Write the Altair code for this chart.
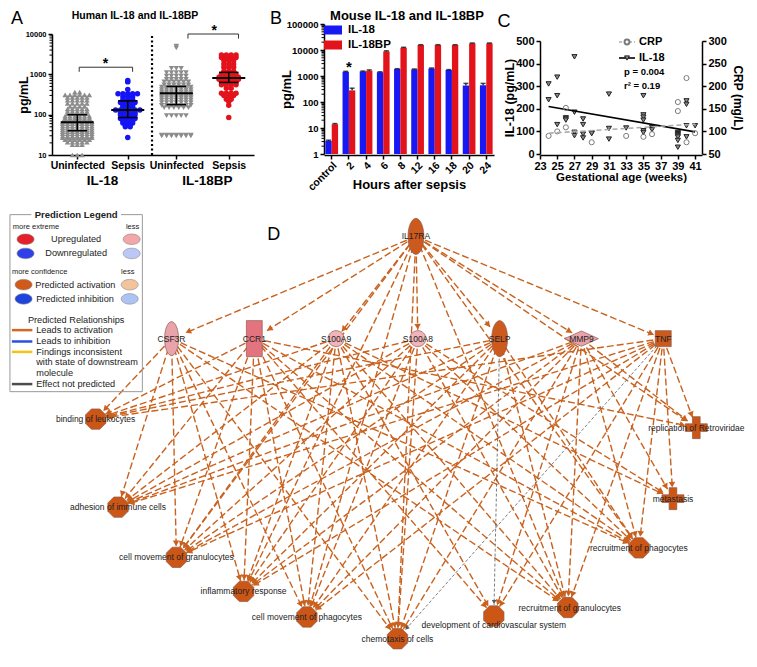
import math
import pandas as pd
import altair as alt

FONT = "Liberation Sans"

# ======================= Panel A data (human) =======================
A_CATEGORIES = ["IL-18 Uninfected", "IL-18 Sepsis", "IL-18BP Uninfected", "IL-18BP Sepsis"]
A_TICK_LABELS = ["Uninfected", "Sepsis", "Uninfected", "Sepsis"]
A_GROUP_LABELS = ["IL-18", "IL-18BP"]
A_IL18_UNINF_LEVELS = [10, 18, 21, 24, 27, 30, 34, 38, 42, 47, 53, 60, 66, 74, 82, 92, 105, 120, 140, 160, 190, 230, 270, 310, 360]
A_IL18_UNINF_COUNTS = [3, 3, 5, 6, 7, 7, 7, 7, 7, 7, 7, 7, 7, 6, 6, 6, 5, 5, 5, 4, 5, 5, 5, 6, 2]
A_IL18_SEPSIS_LEVELS = [27, 50, 55, 62, 70, 80, 90, 100, 115, 130, 150, 170, 200, 230, 280, 330, 420, 650, 700]
A_IL18_SEPSIS_COUNTS = [1, 2, 2, 3, 3, 4, 3, 4, 4, 6, 3, 3, 4, 3, 3, 5, 1, 1, 1]
A_BP_UNINF_LEVELS = [30, 31, 95, 150, 170, 200, 230, 260, 290, 330, 370, 420, 480, 550, 650, 750, 900, 1100, 1400, 4500, 5000]
A_BP_UNINF_COUNTS = [7, 7, 5, 6, 7, 7, 7, 7, 7, 7, 7, 7, 7, 6, 6, 5, 5, 5, 3, 1, 1]
A_BP_SEPSIS_LEVELS = [85, 170, 210, 240, 300, 340, 450, 550, 650, 750, 850, 1000, 1200, 1500, 1800, 2200, 2600, 3000]
A_BP_SEPSIS_COUNTS = [1, 1, 1, 2, 3, 4, 2, 4, 4, 5, 5, 4, 3, 3, 3, 3, 4, 4]
A_MEAN = [65, 130, 340, 810]
A_SD_LOW = [40, 85, 177, 630]
A_SD_HIGH = [100, 220, 500, 1120]
A_BRACKET_Y = [1500, 10000]
A_STAR_Y = [2300, 14500]
A_MINOR = [m * 10 ** k for k in range(1, 4) for m in range(2, 10)]

# ======================= Panel B data (mouse) =======================
B_TIMES = ["control", "2", "4", "6", "8", "12", "16", "18", "20", "24"]
B_SERIES = ["IL-18", "IL-18BP"]
B_IL18 = [3.2, 1450, 1500, 1400, 1850, 1800, 1950, 1700, 430, 440]
B_IL18BP = [14, 280, 1600, 8800, 12200, 15500, 15500, 15500, 18000, 18000]
B_IL18_ERR = [0.2, 60, 50, 50, 60, 60, 80, 60, 90, 80]
B_IL18BP_ERR = [0.8, 60, 120, 500, 500, 500, 500, 500, 600, 600]
B_STAR_TIME = ["2"]
B_STAR_Y = [3200]
B_MINOR = [m * 10 ** k for k in range(0, 5) for m in range(2, 10)]

# ======================= Panel C data (gestational age) =======================
C_WEEK_TICKS = list(range(23, 42, 2))
C_IL18_TICKS = [0, 100, 200, 300, 400, 500]
C_CRP_TICKS = [50, 100, 150, 200, 250, 300]
C_IL18_WEEK = [24, 24, 25, 25, 25, 26, 26, 26, 27, 27, 27, 27, 28, 28, 28, 28, 29, 29, 31, 31, 31, 33,
               35, 35, 35, 35, 35, 35, 36, 36, 39, 39, 39, 39, 39, 39, 39, 40, 40, 40, 40, 41]
C_IL18_VAL = [310, 240, 340, 258, 130, 160, 155, 150, 430, 185, 96, 81, 155, 130, 88, 71, 93, 90, 265, 113, 66, 115,
              258, 173, 163, 150, 103, 95, 117, 108, 95, 90, 85, 80, 75, 60, 30, 235, 220, 125, 76, 125]
C_CRP_WEEK = [24, 25, 26, 26, 27, 29, 33, 35, 36, 39, 39, 40, 40, 41]
C_CRP_VAL = [90, 100, 152, 109, 97, 76, 90, 88, 94, 165, 145, 218, 76, 96]
C_IL18_FIT_WEEK = [24, 41]
C_IL18_FIT_VAL = [210, 98]
C_CRP_FIT_WEEK = [24, 41]
C_CRP_FIT_VAL = [96, 116]

# ======================= Panel D data (network) =======================
D_NODES = ["IL17RA", "CSF3R", "CCR1", "S100A9", "S100A8", "SELP", "MMP9", "TNF",
           "binding of leukocytes", "adhesion of immune cells", "cell movement of granulocytes",
           "inflammatory response", "cell movement of phagocytes", "chemotaxis of cells",
           "development of cardiovascular system", "recruitment of granulocytes",
           "recruitment of phagocytes", "metastasis", "replication of Retroviridae"]
D_MOLECULES = ["CSF3R", "CCR1", "S100A9", "S100A8", "SELP", "MMP9", "TNF"]
D_IL17RA_FUNCTIONS = ["cell movement of granulocytes", "inflammatory response", "cell movement of phagocytes",
                      "chemotaxis of cells", "recruitment of granulocytes", "recruitment of phagocytes",
                      "replication of Retroviridae"]
D_FUNCTION_SOURCES = {
    "binding of leukocytes": ["CSF3R", "CCR1", "S100A9", "S100A8", "SELP", "TNF"],
    "adhesion of immune cells": ["CSF3R", "CCR1", "S100A9", "S100A8", "SELP", "MMP9", "TNF"],
    "cell movement of granulocytes": ["CSF3R", "CCR1", "S100A9", "S100A8", "SELP", "MMP9", "TNF"],
    "inflammatory response": ["CSF3R", "CCR1", "S100A9", "S100A8", "SELP", "MMP9", "TNF"],
    "cell movement of phagocytes": ["CSF3R", "CCR1", "S100A9", "S100A8", "SELP", "MMP9", "TNF"],
    "chemotaxis of cells": ["CSF3R", "CCR1", "S100A9", "S100A8", "SELP", "MMP9"],
    "development of cardiovascular system": ["CCR1", "S100A9", "MMP9", "TNF"],
    "recruitment of granulocytes": ["CSF3R", "CCR1", "S100A9", "S100A8", "SELP", "MMP9", "TNF"],
    "recruitment of phagocytes": ["CSF3R", "CCR1", "S100A9", "S100A8", "SELP", "MMP9", "TNF"],
    "metastasis": ["S100A9", "S100A8", "MMP9", "TNF"],
    "replication of Retroviridae": ["CCR1", "MMP9", "TNF"],
}
D_NOT_PREDICTED = [("SELP", "development of cardiovascular system"), ("TNF", "chemotaxis of cells")]

# ----------------------- layout (positions, sizes, styles) -----------------------
ROW_H = 131
A_W, B_W, C_W = 202, 170, 162
A_TOP, B_TOP, C_TOP = 10, 0, 17
D_W, D_H = 737, 444
A_CENTERS = [26, 78, 128, 182]
A_GROUP_X = [52, 160]
A_BRACKET_X1 = [28, 140]
A_BRACKET_X2 = [83, 192]
A_STAR_X = [55, 167]
A_SEP_X = 103
A_STEP = 5.0

D_POS = {
    "IL17RA": (419, 228), "CSF3R": (168, 336), "CCR1": (253, 336), "S100A9": (337, 336),
    "S100A8": (421, 336), "SELP": (505, 336), "MMP9": (589, 336), "TNF": (673, 336),
    "binding of leukocytes": (90, 421), "adhesion of immune cells": (113, 514),
    "cell movement of granulocytes": (173, 567), "inflammatory response": (242, 603),
    "cell movement of phagocytes": (307, 630), "chemotaxis of cells": (400, 653),
    "development of cardiovascular system": (499, 629), "recruitment of granulocytes": (575, 620),
    "recruitment of phagocytes": (648, 557), "metastasis": (683, 505),
    "replication of Retroviridae": (707, 430),
}
D_LABEL_OFF = {"development of cardiovascular system": (0, 9), "recruitment of granulocytes": (2, 0)}


def poly_path(pts):
    return "M" + "L".join(f"{x:.3f},{y:.3f}" for x, y in pts) + "Z"


def ellipse_path(rx, ry, n=32):
    return poly_path([(rx * math.cos(2 * math.pi * k / n), ry * math.sin(2 * math.pi * k / n)) for k in range(n)])


ELL_V = ellipse_path(0.44, 1)
ELL_V2 = ellipse_path(0.41, 1)
ELL_H = ellipse_path(1, 0.62)
CIRC = ellipse_path(1, 1)
RECT_V = poly_path([(-0.44, -1), (0.44, -1), (0.44, 1), (-0.44, 1)])
DIAM = poly_path([(-1, 0), (0, -0.45), (1, 0), (0, 0.45)])
OCT = poly_path([(math.cos(math.radians(22.5 + 45 * k)), math.sin(math.radians(22.5 + 45 * k))) for k in range(8)])
PLUS = poly_path([(-0.35, -1), (0.35, -1), (0.35, -0.35), (1, -0.35), (1, 0.35), (0.35, 0.35), (0.35, 1),
                  (-0.35, 1), (-0.35, 0.35), (-1, 0.35), (-1, -0.35), (-0.35, -0.35)])
LEG_RECT = "M-1,-0.5L1,-0.5L1,0.5L-1,0.5Z"

ORANGE = "#cc5a1e"
EDGE = "#c9621f"
D_STYLE = {
    "IL17RA": (ELL_V, 1300, ORANGE, 16), "CSF3R": (ELL_V2, 1156, "#e9a3ab", 15),
    "CCR1": (RECT_V, 1300, "#e3747f", 15), "S100A9": (CIRC, 256, "#f0b4ba", 9),
    "S100A8": (CIRC, 256, "#f0b4ba", 9), "SELP": (ELL_V, 1300, ORANGE, 15),
    "MMP9": (DIAM, 1156, "#e8a2aa", 11), "TNF": ("square", 256, ORANGE, 10),
}
for _f in D_NODES[8:]:
    D_STYLE[_f] = ((PLUS if _f in ("metastasis", "replication of Retroviridae") else OCT), 484, "#cc5616", 11)


def one(**kw):
    return pd.DataFrame({k: [v] for k, v in kw.items()})


def spacer(w, h):
    return alt.Chart(one(s=0)).mark_rect(opacity=0).encode(
        x=alt.value(0), x2=alt.value(w), y=alt.value(0), y2=alt.value(h)).properties(width=w, height=h)


# ======================= Panel A chart =======================
rows = []
for cat, cx, lv, ct in zip(A_CATEGORIES, A_CENTERS,
                           [A_IL18_UNINF_LEVELS, A_IL18_SEPSIS_LEVELS, A_BP_UNINF_LEVELS, A_BP_SEPSIS_LEVELS],
                           [A_IL18_UNINF_COUNTS, A_IL18_SEPSIS_COUNTS, A_BP_UNINF_COUNTS, A_BP_SEPSIS_COUNTS]):
    for v, n in zip(lv, ct):
        for i in range(n):
            rows.append({"group": cat, "x": cx + (i - (n - 1) / 2) * A_STEP, "v": v})
a_pts = pd.DataFrame(rows)

label_expr = "'Sepsis'"
for c, lab in zip(A_CENTERS, A_TICK_LABELS):
    label_expr = f"datum.value == {c} ? '{lab}' : (" + label_expr + ")"

a_xscale = alt.Scale(domain=[0, 208], nice=False, zero=False)
a_yscale = alt.Scale(type="log", domain=[10, 10000], nice=False, range=[ROW_H, A_TOP])
a_points = alt.Chart(a_pts).mark_point(filled=True, size=30, opacity=1).encode(
    x=alt.X("x:Q", scale=a_xscale, axis=alt.Axis(values=A_CENTERS, labelExpr=label_expr, title=None,
                                                   labelFontSize=10.5, labelFontWeight="bold", tickSize=4,
                                                   labelPadding=1, domainWidth=1.5, tickWidth=1.5,
                                                   labelFlush=False, labelOverlap=False)),
    y=alt.Y("v:Q", scale=a_yscale, axis=alt.Axis(values=[10, 100, 1000, 10000], format="d", title="pg/mL",
                                                   titleFontSize=12.5, titleFontWeight="bold", titleX=-22,
                                                   titleY=(ROW_H + A_TOP) / 2, labelOverlap=False,
                                                   labelFontSize=7.5, labelFontWeight="bold", tickSize=4,
                                                   domainWidth=1.5, tickWidth=1.5)),
    shape=alt.Shape("group:N", scale=alt.Scale(domain=A_CATEGORIES,
                                               range=["triangle-up", "circle", "triangle-down", "circle"]),
                    legend=None),
    color=alt.Color("group:N", scale=alt.Scale(domain=A_CATEGORIES,
                                               range=["#8c8c8c", "#1414f5", "#8c8c8c", "#e3121b"]),
                    legend=None),
)
a_stats = pd.DataFrame({"c": A_CENTERS, "mean": A_MEAN, "lo": A_SD_LOW, "hi": A_SD_HIGH})
a_stats["ml"] = a_stats["c"] - 17
a_stats["mr"] = a_stats["c"] + 17
a_stats["sl"] = a_stats["c"] - 10
a_stats["sr"] = a_stats["c"] + 10
a_mean = alt.Chart(a_stats).mark_rule(color="black", strokeWidth=2).encode(x="ml:Q", x2="mr:Q", y="mean:Q")
a_vert = alt.Chart(a_stats).mark_rule(color="black", strokeWidth=1.5).encode(x="c:Q", y="lo:Q", y2="hi:Q")
a_caplo = alt.Chart(a_stats).mark_rule(color="black", strokeWidth=1.5).encode(x="sl:Q", x2="sr:Q", y="lo:Q")
a_caphi = alt.Chart(a_stats).mark_rule(color="black", strokeWidth=1.5).encode(x="sl:Q", x2="sr:Q", y="hi:Q")

a_br = pd.DataFrame({"x1": A_BRACKET_X1, "x2": A_BRACKET_X2, "y": A_BRACKET_Y,
                     "sx": A_STAR_X, "sy": A_STAR_Y})
a_br["yt"] = a_br["y"] * 0.77
a_brh = alt.Chart(a_br).mark_rule(color="#333", strokeWidth=1).encode(x="x1:Q", x2="x2:Q", y="y:Q")
a_brl = alt.Chart(a_br).mark_rule(color="#333", strokeWidth=1).encode(x="x1:Q", y="yt:Q", y2="y:Q")
a_brr = alt.Chart(a_br).mark_rule(color="#333", strokeWidth=1).encode(x="x2:Q", y="yt:Q", y2="y:Q")
a_star = alt.Chart(a_br).mark_text(text="*", fontSize=14, fontWeight="bold", baseline="middle", dy=4).encode(
    x="sx:Q", y="sy:Q")
a_sep = alt.Chart(one(x=A_SEP_X, y1=10, y2=10000)).mark_rule(
    color="black", strokeWidth=2.2, strokeDash=[2, 2.5]).encode(x="x:Q", y="y1:Q", y2="y2:Q")
a_grp = alt.Chart(pd.DataFrame({"gx": A_GROUP_X, "t": A_GROUP_LABELS})).mark_text(
    fontSize=13.5, fontWeight="bold", baseline="middle").encode(x="gx:Q", y=alt.value(ROW_H + 26), text="t:N")
a_minor = alt.Chart(pd.DataFrame({"v": A_MINOR})).mark_rule(color="black", strokeWidth=1).encode(
    y="v:Q", x=alt.value(0), x2=alt.value(-2.5))
a_letter = alt.Chart(one(t="A")).mark_text(fontSize=18, baseline="middle").encode(
    x=alt.value(-35), y=alt.value(A_TOP - 15), text="t:N")
a_title = alt.Chart(one(t="Human IL-18 and IL-18BP")).mark_text(
    fontSize=10.5, fontWeight="bold", baseline="middle").encode(
    x=alt.value(83), y=alt.value(A_TOP - 18), text="t:N")
a_chart = alt.layer(a_points, a_mean, a_vert, a_caplo, a_caphi, a_brh, a_brl, a_brr, a_star, a_sep,
                    a_grp, a_minor, a_letter, a_title).properties(width=A_W, height=ROW_H)

# ======================= Panel B chart =======================
b_df = pd.DataFrame({"time": B_TIMES * 2, "series": ["IL-18"] * len(B_TIMES) + ["IL-18BP"] * len(B_TIMES),
                     "v": B_IL18 + B_IL18BP, "err": B_IL18_ERR + B_IL18BP_ERR})
b_df["top"] = b_df["v"] + b_df["err"]
bx = alt.X("time:N", sort=B_TIMES, scale=alt.Scale(paddingInner=0.26, paddingOuter=0.08),
           axis=alt.Axis(title="Hours after sepsis", labelAngle=-45, labelFontSize=10.5, labelFontWeight="bold",
                         titleFontSize=13, titleFontWeight="bold", tickSize=4, domainWidth=1.5, tickWidth=1.5,
                         titleY=23, labelPadding=1))
bxo = alt.XOffset("series:N", sort=B_SERIES, scale=alt.Scale(paddingInner=0, paddingOuter=0))
b_yscale = alt.Scale(type="log", domain=[1, 100000], nice=False, range=[ROW_H - 1, B_TOP])
b_bars = alt.Chart(b_df).mark_bar().encode(
    x=bx, xOffset=bxo,
    y=alt.Y("v:Q", scale=b_yscale, axis=alt.Axis(values=[1, 10, 100, 1000, 10000, 100000], format="d",
                                                   title="pg/mL", titleFontSize=13, titleFontWeight="bold",
                                                   titleX=-31, labelFontSize=9.5, labelFontWeight="bold",
                                                   labelOverlap=False,
                                                   tickSize=4, domainWidth=1.5, tickWidth=1.5)),
    y2=alt.datum(1),
    color=alt.Color("series:N", scale=alt.Scale(domain=B_SERIES, range=["#1818f2", "#e3131c"]),
                    legend=alt.Legend(title=None, orient="none", legendX=0, legendY=-3, symbolType=LEG_RECT,
                                      symbolSize=324, symbolStrokeWidth=0, labelFontSize=11.5,
                                      labelFontWeight="bold", labelFont=FONT, rowPadding=-4, padding=0,
                                      labelOffset=6)),
)
b_err = alt.Chart(b_df).mark_rule(color="black", strokeWidth=1.2).encode(
    x=alt.X("time:N", sort=B_TIMES), xOffset=alt.XOffset("series:N", sort=B_SERIES), y="v:Q", y2="top:Q")
b_cap = alt.Chart(b_df).mark_tick(color="black", thickness=1.5, size=5).encode(
    x=alt.X("time:N", sort=B_TIMES), xOffset=alt.XOffset("series:N", sort=B_SERIES), y="top:Q")
b_star = alt.Chart(pd.DataFrame({"time": B_STAR_TIME, "v": B_STAR_Y})).mark_text(
    text="*", fontSize=15, fontWeight="bold", baseline="middle", dy=4).encode(
    x=alt.X("time:N", sort=B_TIMES), y="v:Q")
b_minor = alt.Chart(pd.DataFrame({"v": B_MINOR})).mark_rule(color="black", strokeWidth=1).encode(
    y="v:Q", x=alt.value(0), x2=alt.value(-2.5))
b_letter = alt.Chart(one(t="B")).mark_text(fontSize=18, baseline="middle").encode(
    x=alt.value(-48), y=alt.value(B_TOP - 5), text="t:N")
b_title = alt.Chart(one(t="Mouse IL-18 and IL-18BP")).mark_text(
    fontSize=13, fontWeight="bold", baseline="middle").encode(x=alt.value(83), y=alt.value(B_TOP - 8), text="t:N")
b_chart = alt.layer(b_bars, b_err, b_cap, b_star, b_minor, b_letter, b_title).properties(width=B_W, height=ROW_H)

# ======================= Panel C chart =======================
C_MID = (ROW_H - 1 + C_TOP) / 2
c_xs = alt.Scale(domain=[23, 41.8], nice=False, zero=False)
c_yl = alt.Scale(domain=[0, 500], nice=False, range=[ROW_H - 1, C_TOP])
c_yr = alt.Scale(domain=[50, 300], nice=False, range=[ROW_H - 1, C_TOP])
AX = dict(labelFontSize=11, labelFontWeight="bold", tickSize=4, domainWidth=1.5, tickWidth=1.5,
          labelOverlap=False, labelFlush=False, labelBound=False)
c_il18 = pd.DataFrame({"week": C_IL18_WEEK, "il18": C_IL18_VAL})
c_crp = pd.DataFrame({"week": C_CRP_WEEK, "crp": C_CRP_VAL})
c_il18_pts = alt.Chart(c_il18).mark_point(shape="triangle-down", filled=True, size=26, fill="#8a8a8a",
                                          stroke="#222", strokeWidth=1, opacity=1).encode(
    x=alt.X("week:Q", scale=c_xs,
            axis=alt.Axis(values=C_WEEK_TICKS, tickCount=len(C_WEEK_TICKS), title="Gestational age (weeks)",
                          titleFontSize=11.5, titleFontWeight="bold", titlePadding=0, labelPadding=1, **AX)),
    y=alt.Y("il18:Q", scale=c_yl,
            axis=alt.Axis(values=C_IL18_TICKS, tickCount=len(C_IL18_TICKS), title="IL-18 (pg/mL)",
                          titleFontSize=12.5, titleFontWeight="bold", titleX=-24, titleY=C_MID, **AX)))
c_il18_fit = alt.Chart(pd.DataFrame({"week": C_IL18_FIT_WEEK, "il18": C_IL18_FIT_VAL})).mark_line(
    color="black", strokeWidth=1.6).encode(x="week:Q", y="il18:Q")
c_crp_pts = alt.Chart(c_crp).mark_point(shape="circle", filled=False, size=26, color="#7a7a7a",
                                        strokeWidth=1, opacity=1).encode(
    x="week:Q",
    y=alt.Y("crp:Q", scale=c_yr,
            axis=alt.Axis(orient="right", values=C_CRP_TICKS, tickCount=len(C_CRP_TICKS), title="CRP (mg/L)",
                          titleFontSize=12, titleFontWeight="bold", titleY=C_MID, **AX)))
c_crp_fit = alt.Chart(pd.DataFrame({"week": C_CRP_FIT_WEEK, "crp": C_CRP_FIT_VAL})).mark_line(
    color="#aaaaaa", strokeWidth=1.6, strokeDash=[5, 3]).encode(x="week:Q", y="crp:Q")

c_leg_crp_line = alt.Chart(one(s=0)).mark_rule(color="#aaaaaa", strokeWidth=1.6, strokeDash=[3, 2]).encode(
    x=alt.value(79), x2=alt.value(95), y=alt.value(C_TOP + 1))
c_leg_crp_pt = alt.Chart(one(s=0)).mark_point(shape="circle", filled=False, size=24, color="#7a7a7a",
                                              opacity=1, fill="white").encode(x=alt.value(87), y=alt.value(C_TOP + 1))
c_leg_il_line = alt.Chart(one(s=0)).mark_rule(color="black", strokeWidth=1.6).encode(
    x=alt.value(79), x2=alt.value(95), y=alt.value(C_TOP + 17))
c_leg_il_pt = alt.Chart(one(s=0)).mark_point(shape="triangle-down", filled=True, size=24, fill="#8a8a8a",
                                             stroke="#222", strokeWidth=1, opacity=1).encode(
    x=alt.value(87), y=alt.value(C_TOP + 17))
c_leg_text = alt.Chart(pd.DataFrame({"t": ["CRP", "IL-18"], "yy": [C_TOP + 1, C_TOP + 17]})).mark_text(
    fontSize=11, fontWeight="bold", align="left", baseline="middle").encode(
    x=alt.value(99), y=alt.Y("yy:Q", scale=None), text="t:N")
c_stat_text = alt.Chart(pd.DataFrame({"t": ["p = 0.004", "r\u00b2 = 0.19"], "yy": [C_TOP + 31, C_TOP + 45]})).mark_text(
    fontSize=9.5, fontWeight="bold", align="left", baseline="middle").encode(
    x=alt.value(84), y=alt.Y("yy:Q", scale=None), text="t:N")
c_letter = alt.Chart(one(t="C")).mark_text(fontSize=18, baseline="middle").encode(
    x=alt.value(-36), y=alt.value(C_TOP - 19), text="t:N")
c_chart = alt.layer(
    alt.layer(c_il18_pts, c_il18_fit),
    alt.layer(c_crp_pts, c_crp_fit),
    c_leg_crp_line, c_leg_crp_pt, c_leg_il_line, c_leg_il_pt, c_leg_text, c_stat_text, c_letter,
).resolve_scale(y="independent").properties(width=C_W, height=ROW_H)

# ======================= Panel D chart =======================
dx_s = alt.Scale(domain=[0, 757], nice=False, zero=False)
dy_s = alt.Scale(domain=[198, 667], nice=False, zero=False, reverse=True)
PXX = D_W / 757.0
PXY = D_H / (667 - 198.0)

edge_rows, arrow_rows = [], []


def add_edge(s, t, kind):
    x1, y1 = D_POS[s]
    x2, y2 = D_POS[t]
    dxp, dyp = (x2 - x1) * PXX, (y2 - y1) * PXY
    L = math.hypot(dxp, dyp)
    ux, uy = dxp / L, dyp / L
    r = D_STYLE[t][3]
    ex, ey = x2 - ux * r / PXX, y2 - uy * r / PXY
    ax, ay = x2 - ux * (r + 3) / PXX, y2 - uy * (r + 3) / PXY
    ang = (math.degrees(math.atan2(dxp, -dyp)) + 360) % 360
    edge_rows.append({"x": x1, "y": y1, "x2": ex, "y2": ey, "kind": kind})
    arrow_rows.append({"x": ax, "y": ay, "ang": ang, "kind": kind})


for t in D_MOLECULES + D_IL17RA_FUNCTIONS:
    add_edge("IL17RA", t, "act")
for t, srcs in D_FUNCTION_SOURCES.items():
    for s in srcs:
        add_edge(s, t, "act")
for s, t in D_NOT_PREDICTED:
    add_edge(s, t, "np")
d_edges = pd.DataFrame(edge_rows)
d_arrows = pd.DataFrame(arrow_rows)

d_edge_act = alt.Chart(d_edges[d_edges.kind == "act"]).mark_rule(
    color=EDGE, strokeWidth=1.4, strokeDash=[7, 3]).encode(
    x=alt.X("x:Q", scale=dx_s, axis=None), y=alt.Y("y:Q", scale=dy_s, axis=None), x2="x2:Q", y2="y2:Q")
d_edge_np = alt.Chart(d_edges[d_edges.kind == "np"]).mark_rule(
    color="#5a5a5a", strokeWidth=0.8, strokeDash=[3, 2]).encode(x="x:Q", y="y:Q", x2="x2:Q", y2="y2:Q")
d_arrow_act = alt.Chart(d_arrows[d_arrows.kind == "act"]).mark_point(
    shape="triangle-up", filled=True, size=42, color=EDGE, opacity=1).encode(
    x="x:Q", y="y:Q", angle=alt.Angle("ang:Q", scale=None))
d_arrow_np = alt.Chart(d_arrows[d_arrows.kind == "np"]).mark_point(
    shape="triangle-up", filled=True, size=22, color="#5a5a5a", opacity=1).encode(
    x="x:Q", y="y:Q", angle=alt.Angle("ang:Q", scale=None))

d_nodes = pd.DataFrame({
    "name": D_NODES,
    "x": [D_POS[n][0] for n in D_NODES],
    "y": [D_POS[n][1] for n in D_NODES],
    "shape": [D_STYLE[n][0] for n in D_NODES],
    "size": [D_STYLE[n][1] for n in D_NODES],
    "fill": [D_STYLE[n][2] for n in D_NODES],
})
d_nodes["lx"] = [D_POS[n][0] + D_LABEL_OFF.get(n, (0, 0))[0] for n in D_NODES]
d_nodes["ly"] = [D_POS[n][1] + D_LABEL_OFF.get(n, (0, 0))[1] for n in D_NODES]
d_node_marks = alt.Chart(d_nodes).mark_point(filled=True, opacity=1, stroke="#8d5c4c", strokeWidth=0.7).encode(
    x="x:Q", y="y:Q", shape=alt.Shape("shape:N", scale=None), size=alt.Size("size:Q", scale=None),
    fill=alt.Fill("fill:N", scale=None))
d_node_text = alt.Chart(d_nodes).mark_text(fontSize=8.5, color="#222", baseline="middle").encode(
    x="lx:Q", y="ly:Q", text="name:N")

LEG_BOX = pd.DataFrame({"x": [2, 138, 2, 2, 116], "x2": [2, 138, 138, 24, 138],
                        "y": [205, 205, 392, 205, 205], "y2": [392, 392, 392, 205, 205]})
d_leg_box = alt.Chart(LEG_BOX).mark_rule(color="#9a9a9a", strokeWidth=1).encode(
    x="x:Q", x2="x2:Q", y="y:Q", y2="y2:Q")
LEG_SWATCH = pd.DataFrame({
    "x": [18, 127, 18, 127, 16, 125, 16, 125],
    "y": [231, 231, 246, 246, 279, 279, 294, 294],
    "fill": ["#e4212b", "#f2a8a8", "#3040e8", "#bcc6f7", "#cf5a1a", "#f3c39b", "#1f44dd", "#adc3f3"],
})
d_leg_sw = alt.Chart(LEG_SWATCH).mark_point(shape=ELL_H, size=289, filled=True, opacity=1,
                                            stroke="#8a8a8a", strokeWidth=0.6).encode(
    x="x:Q", y="y:Q", fill=alt.Fill("fill:N", scale=None))
LEG_LINES = pd.DataFrame({"x": [4] * 4, "x2": [25] * 4, "y": [327, 339, 350, 384],
                          "col": ["#d2691e", "#2b50e3", "#f2c511", "#4d4d4d"]})
d_leg_lines = alt.Chart(LEG_LINES).mark_rule(strokeWidth=2.5).encode(
    x="x:Q", x2="x2:Q", y="y:Q", y2="y:Q", color=alt.Color("col:N", scale=None))
LEG_T_LEFT = pd.DataFrame({
    "t": ["Predicted activation", "Predicted inhibition", "Leads to activation", "Leads to inhibition",
          "Findings inconsistent", "with state of downstream", "molecule", "Effect not predicted"],
    "x": [28, 29, 29, 29, 29, 29, 29, 29],
    "y": [279, 294, 327, 339, 350, 361, 372, 384]})
LEG_T_CENTER = pd.DataFrame({"t": ["Upregulated", "Downregulated", "Predicted Relationships"],
                             "x": [70, 70, 70], "y": [231, 246, 316]})
LEG_T_SMALL_L = pd.DataFrame({"t": ["more extreme", "more confidence"], "x": [5, 4], "y": [218, 266]})
LEG_T_SMALL_C = pd.DataFrame({"t": ["less", "less"], "x": [128, 123], "y": [218, 266]})
d_lt1 = alt.Chart(LEG_T_LEFT).mark_text(fontSize=9.2, align="left", baseline="middle", color="#222").encode(
    x="x:Q", y="y:Q", text="t:N")
d_lt2 = alt.Chart(LEG_T_CENTER).mark_text(fontSize=9.2, align="center", baseline="middle", color="#222").encode(
    x="x:Q", y="y:Q", text="t:N")
d_lt3 = alt.Chart(LEG_T_SMALL_L).mark_text(fontSize=7.5, align="left", baseline="middle", color="#222").encode(
    x="x:Q", y="y:Q", text="t:N")
d_lt4 = alt.Chart(LEG_T_SMALL_C).mark_text(fontSize=7.5, align="center", baseline="middle", color="#222").encode(
    x="x:Q", y="y:Q", text="t:N")
d_lt5 = alt.Chart(one(t="Prediction Legend", x=70, y=205)).mark_text(
    fontSize=9.5, fontWeight="bold", align="center", baseline="middle", color="#222").encode(
    x="x:Q", y="y:Q", text="t:N")
d_letter = alt.Chart(one(t="D", x=273, y=227)).mark_text(fontSize=18, baseline="middle").encode(
    x="x:Q", y="y:Q", text="t:N")

d_chart = alt.layer(d_edge_act, d_edge_np, d_arrow_act, d_arrow_np, d_node_marks, d_node_text,
                    d_leg_box, d_leg_sw, d_leg_lines, d_lt1, d_lt2, d_lt3, d_lt4, d_lt5, d_letter
                    ).properties(width=D_W, height=D_H)

# ======================= assemble =======================
top = alt.hconcat(spacer(44, ROW_H), a_chart, spacer(70, ROW_H), b_chart, spacer(46, ROW_H), c_chart,
                  spacing=0, bounds="flush").resolve_scale(color="independent", shape="independent")
chart = alt.vconcat(top, d_chart, spacing=15).resolve_scale(color="independent", shape="independent").properties(
    padding={"top": 2, "left": 0, "right": 0, "bottom": 0}, background="white"
).configure_view(stroke=None).configure_axis(
    grid=False, domainColor="black", tickColor="black", labelColor="black", titleColor="black",
    labelFont=FONT, titleFont=FONT, labelOverlap=False
).configure_axisQuantitative(labelOverlap=False).configure_text(font=FONT).configure_legend(labelFont=FONT)

chart.save("out.html", embed_options={"renderer": "svg", "actions": False})
